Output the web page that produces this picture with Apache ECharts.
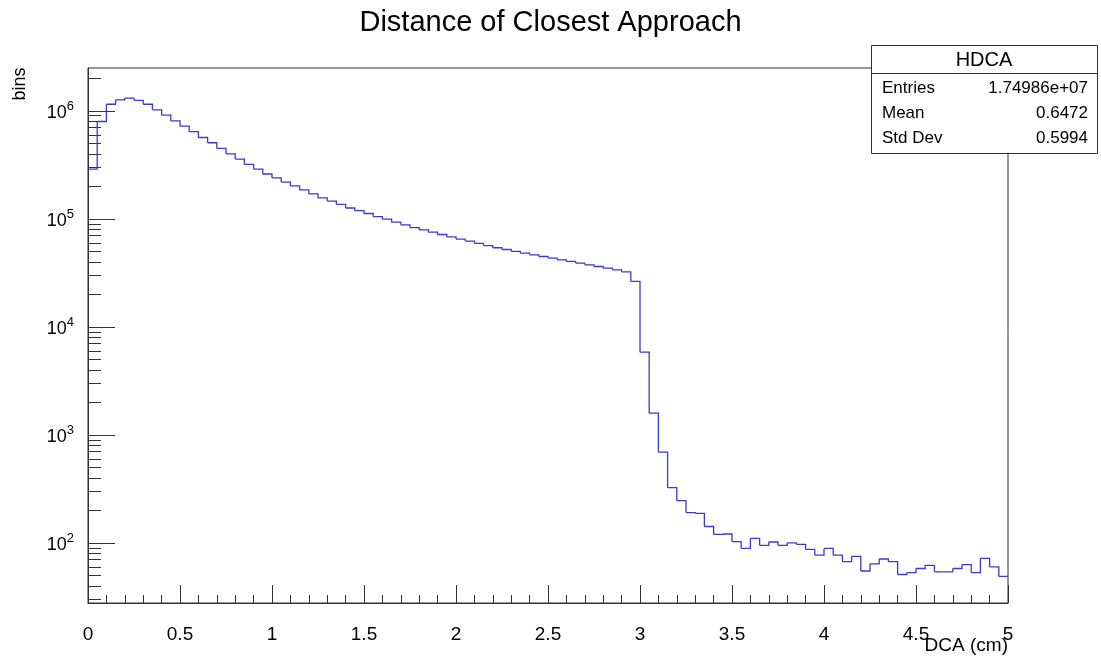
<!DOCTYPE html>
<html>
<head>
<meta charset="utf-8">
<script src="https://cdn.jsdelivr.net/npm/echarts@6/dist/echarts.min.js"></script>
<style>
html,body{margin:0;padding:0;background:#fff;}
#chart{width:1101px;height:659px;}
</style>
</head>
<body>
<div id="chart"></div>
<script>
// ---- data (counts per bin, 100 bins of width 0.05 cm from 0 to 5) ----
const binStart = 0;
const binWidth = 0.05;
const counts = [
  2.89e5, 7.96e5, 1.15e6, 1.26e6, 1.31e6, 1.25e6, 1.15e6, 1.02e6, 9.1e5, 8.07e5,
  7.2e5, 6.4e5, 5.66e5, 5.06e5, 4.48e5, 4.0e5, 3.57e5, 3.19e5, 2.89e5, 2.60e5,
  2.39e5, 2.19e5, 2.02e5, 1.85e5, 1.70e5, 1.56e5, 1.46e5, 1.36e5, 1.26e5, 1.19e5,
  1.12e5, 1.05e5, 9.93e4, 9.31e4, 8.79e4, 8.30e4, 7.9e4, 7.53e4, 7.16e4, 6.8e4,
  6.5e4, 6.22e4, 5.93e4, 5.65e4, 5.4e4, 5.2e4, 5.0e4, 4.81e4, 4.64e4, 4.48e4,
  4.33e4, 4.17e4, 4.03e4, 3.89e4, 3.75e4, 3.62e4, 3.49e4, 3.37e4, 3.23e4, 2.64e4,
  5830, 1590, 692, 325, 246, 191, 188, 142, 120, 121,
  103, 89, 110, 95, 102, 95, 100, 97, 87, 77,
  89, 77, 67, 75, 55, 64, 71, 67, 51, 53,
  58, 62, 54, 54, 58, 63, 53, 72, 60, 49
];
const yMajorExponents = [2, 3, 4, 5, 6];
const yMinorMultipliers = [2, 3, 4, 5, 6, 7, 8, 9];
const yMinExponent = 1.444;
const yMaxExponent = 6.396;
const xMin = 0, xMax = 5, xMajorStep = 0.5;

const titleText = 'Distance of Closest Approach';
const xAxisTitle = 'DCA (cm)';
const yAxisTitle = 'bins';
const statsName = 'HDCA';
const statsLabels = ['Entries', 'Mean', 'Std Dev'];
const statsValues = ['1.74986e+07', '0.6472', '0.5994'];

// ---- build ----
const FONT = 'Liberation Sans, Arial, Helvetica, sans-serif';
const LINE_COLOR = '#3b3bcc';
// each item: [xLow, xHigh, log10(count), log10(nextCount) or null]
const binData = counts.map((c, i) => [
  binStart + i * binWidth,
  binStart + (i + 1) * binWidth,
  Math.log10(c),
  i + 1 < counts.length ? Math.log10(counts[i + 1]) : null
]);

const minorVals = [];
for (let n = 1; n <= 6; n++) {
  yMinorMultipliers.forEach(k => {
    const v = Math.log10(k * Math.pow(10, n));
    if (v > yMinExponent && v < yMaxExponent) minorVals.push(v);
  });
}

function renderBin(params, api) {
  const x0 = api.value(0), x1 = api.value(1), v = api.value(2);
  const hasNext = binData[params.dataIndex][3] !== null;
  const pA = api.coord([x0, v]);
  const pB = api.coord([x1, v]);
  const pts = [pA, pB];
  if (hasNext) pts.push(api.coord([x1, api.value(3)]));
  return {
    type: 'polyline',
    shape: {points: pts},
    style: {stroke: LINE_COLOR, lineWidth: 1.3, fill: null, lineJoin: 'miter'},
    silent: true
  };
}

const chart = echarts.init(document.getElementById('chart'), null, {renderer: 'canvas'});

const statsLeft = 871, statsTop = 45, statsW = 226, statsH = 108;
const graphics = [
  {type: 'text', left: 'center', top: 8, z: 100,
   style: {text: titleText, font: 'normal 29px ' + FONT, fill: '#000'}},
  {type: 'text', x: 20, y: 84, rotation: Math.PI / 2, z: 100,
   style: {text: yAxisTitle, font: 'normal 18px ' + FONT, fill: '#000', align: 'center', verticalAlign: 'middle'}},
  {type: 'text', x: 1008, y: 646, z: 100,
   style: {text: xAxisTitle, font: 'normal 19px ' + FONT, fill: '#000', align: 'right', verticalAlign: 'middle'}},
  {type: 'rect', z: 100, shape: {x: statsLeft + 0.5, y: statsTop + 0.5, width: statsW, height: statsH},
   style: {fill: '#fff', stroke: '#333', lineWidth: 1}},
  {type: 'line', z: 101, shape: {x1: statsLeft, y1: statsTop + 28.5, x2: statsLeft + statsW, y2: statsTop + 28.5},
   style: {stroke: '#333', lineWidth: 1}},
  {type: 'text', z: 101, x: statsLeft + statsW / 2, y: statsTop + 15,
   style: {text: statsName, font: 'normal 20px ' + FONT, fill: '#000', align: 'center', verticalAlign: 'middle'}}
];
statsLabels.forEach((lab, i) => {
  const y = statsTop + 43 + i * 25;
  graphics.push({type: 'text', z: 101, x: statsLeft + 11, y: y,
    style: {text: lab, font: 'normal 17px ' + FONT, fill: '#000', align: 'left', verticalAlign: 'middle'}});
  graphics.push({type: 'text', z: 101, x: statsLeft + 217, y: y,
    style: {text: statsValues[i], font: 'normal 17px ' + FONT, fill: '#000', align: 'right', verticalAlign: 'middle'}});
});

const option = {
  animation: false,
  backgroundColor: '#fff',
  grid: {left: 88, right: 93, top: 68, bottom: 56, show: true, borderColor: '#333', borderWidth: 1, backgroundColor: 'transparent'},
  xAxis: {
    type: 'value', min: xMin, max: xMax, interval: xMajorStep,
    axisLine: {show: true, lineStyle: {color: '#333', width: 1}},
    axisTick: {show: true, inside: true, length: 18, lineStyle: {color: '#333'}},
    minorTick: {show: true, splitNumber: 5, length: 8, lineStyle: {color: '#333'}},
    splitLine: {show: false},
    axisLabel: {margin: 22, color: '#000', fontSize: 19, fontFamily: FONT,
      formatter: v => String(Math.round(v * 10) / 10)}
  },
  yAxis: [
    {
      type: 'value', min: yMinExponent, max: yMaxExponent, position: 'left',
      axisLine: {show: true, lineStyle: {color: '#333', width: 1}},
      axisTick: {show: true, inside: true, length: 27, customValues: yMajorExponents, lineStyle: {color: '#333'}},
      splitLine: {show: false},
      axisLabel: {
        margin: 14, customValues: yMajorExponents,
        formatter: v => '{b|10}{s|' + Math.round(v) + '}',
        rich: {
          b: {fontSize: 18, fontFamily: FONT, color: '#000', lineHeight: 22, verticalAlign: 'bottom'},
          s: {fontSize: 13, fontFamily: FONT, color: '#000', lineHeight: 10, verticalAlign: 'top'}
        }
      }
    },
    {
      type: 'value', min: yMinExponent, max: yMaxExponent, position: 'left', offset: 0,
      axisLine: {show: false},
      axisTick: {show: true, inside: true, length: 13, customValues: minorVals, lineStyle: {color: '#333'}},
      splitLine: {show: false},
      axisLabel: {show: false}
    }
  ],
  series: [{
    type: 'custom', yAxisIndex: 0, clip: true,
    renderItem: renderBin,
    encode: {x: [0, 1], y: [2, 3]},
    data: binData
  }],
  graphic: graphics
};
chart.setOption(option);
</script>
</body>
</html>
